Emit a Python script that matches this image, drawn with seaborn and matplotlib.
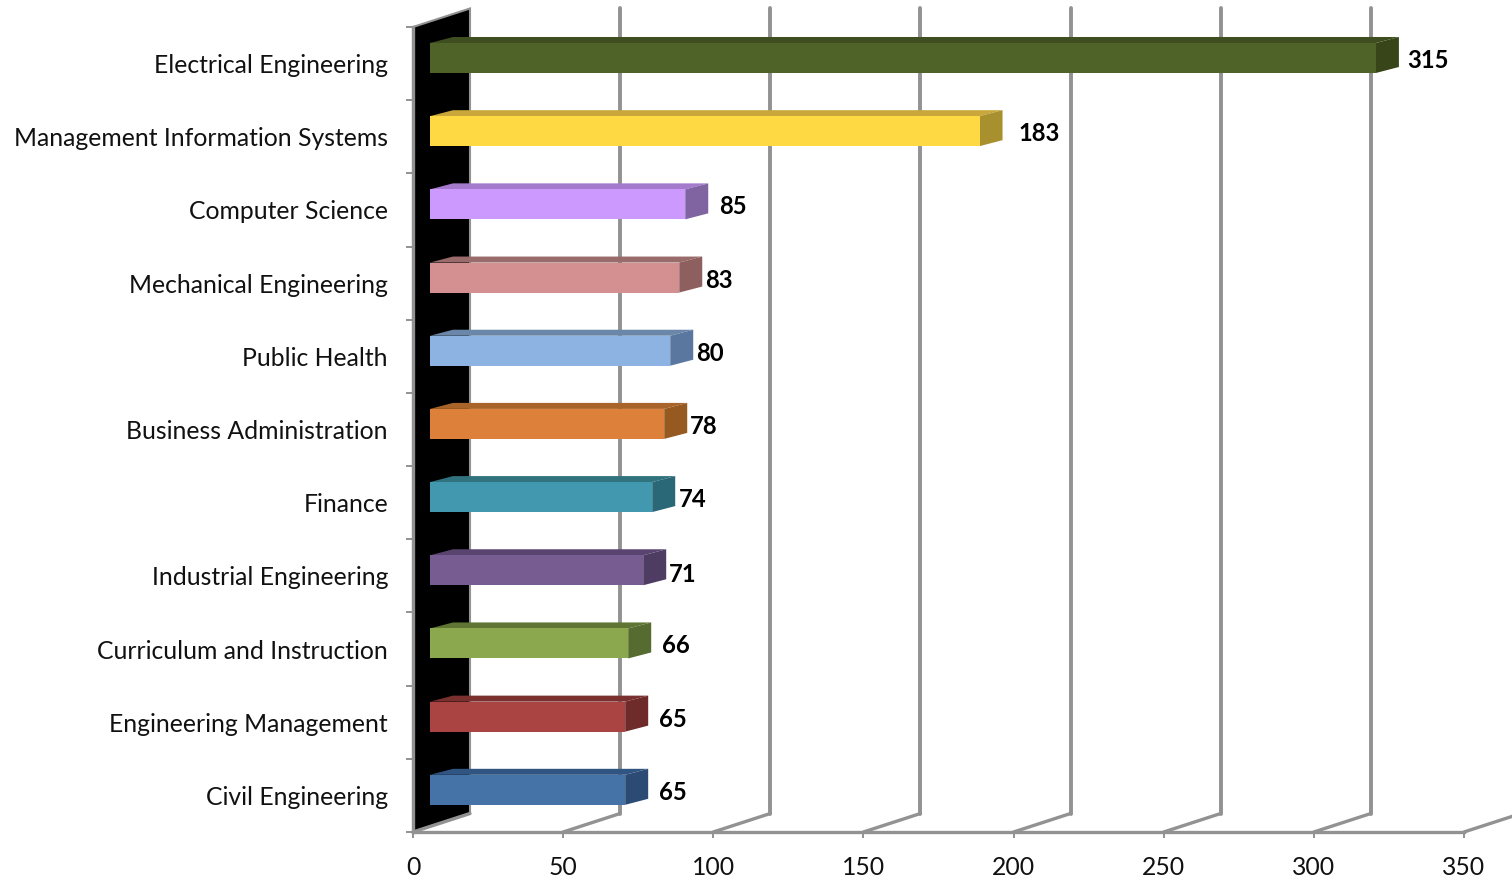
import matplotlib
matplotlib.use('Agg')
import matplotlib.pyplot as plt
import numpy as np
import pandas as pd
import seaborn as sns
from matplotlib.patches import Polygon

majors = ['Electrical Engineering', 'Management Information Systems', 'Computer Science',
          'Mechanical Engineering', 'Public Health', 'Business Administration', 'Finance',
          'Industrial Engineering', 'Curriculum and Instruction', 'Engineering Management',
          'Civil Engineering']
counts = [315, 183, 85, 83, 80, 78, 74, 71, 66, 65, 65]
x_ticks = [0, 50, 100, 150, 200, 250, 300, 350]

front_colors = ['#4F6228', '#FFD944', '#CC99FF', '#D49090', '#8DB3E2', '#DD803A',
                '#4198AF', '#775C91', '#8CA84F', '#A94442', '#4572A7']
top_colors = ['#3F4E20', '#C9A73A', '#A37ACC', '#9A6B6B', '#6A87AA', '#A96529',
              '#31727F', '#59436F', '#5F7533', '#7A302E', '#315582']
side_colors = ['#374518', '#A8902E', '#8064A2', '#8E5F5F', '#5A789F', '#96591F',
               '#2A6878', '#4F3C63', '#556B2F', '#6E2B29', '#2B4B75']

# hand placed labels in the original, px from the bar end / from the row centre
label_gap = [31, 39, 34, 26, 26, 26, 27, 26, 34, 34, 34]
label_rise = [3, 3, 3, 3, 3, 3, 3, 1, 4, 3, 3]

GRID = '#929292'
AX_L, AX_R, AX_T, AX_B = 413, 1464, 27, 832
W, H = 1512, 881

sns.set_style('white')
plt.rcParams['font.family'] = ['Lato', 'DejaVu Sans']

fig = plt.figure(figsize=(W / 100, H / 100), dpi=100)
ax = fig.add_axes([AX_L / W, 1 - AX_B / H, (AX_R - AX_L) / W, (AX_B - AX_T) / H])

df = pd.DataFrame({'major': majors, 'count': counts})
sns.barplot(data=df, x='count', y='major', hue='major', palette=front_colors, legend=False,
            width=30 / 73.2, saturation=1, ax=ax, zorder=4)
bars = list(ax.patches)

ax.set_xlim(0, 350)
ax.set_ylim(len(majors) - 0.5, -0.5)
px_x = 350 / (AX_R - AX_L)
px_y = len(majors) / (AX_B - AX_T)

# 3d look: everything is pushed by a fixed pixel depth
wall_dx, wall_dy = 57 * px_x, 18.5 * px_y
bar_dx, bar_dy = 23 * px_x, 6 * px_y
start, lift = 17 * px_x, 5.6 * px_y

y_top, y_bot = -0.5, len(majors) - 0.5
ax.add_patch(Polygon([(0, y_top), (wall_dx, y_top - wall_dy), (wall_dx, y_bot - wall_dy), (0, y_bot)],
                     closed=True, fc='black', ec=GRID, lw=1.5, clip_on=False, zorder=1))
for t in x_ticks:
    ax.plot([t, t + wall_dx], [y_bot, y_bot - wall_dy], color=GRID, lw=2.4, clip_on=False, zorder=2,
            solid_capstyle='round')
    if t > 0 and t < 350:
        ax.plot([t + wall_dx] * 2, [y_bot - wall_dy, y_top - wall_dy], color=GRID, lw=2.8,
                clip_on=False, zorder=2)

for i, bar in enumerate(bars):
    top = bar.get_y() - lift
    bottom = top + bar.get_height()
    left = start
    right = start + bar.get_width()
    bar.set_x(left)
    bar.set_y(top)
    bar.set_clip_on(False)
    bar.set_edgecolor('none')
    ax.add_patch(Polygon([(left, top), (left + bar_dx, top - bar_dy), (right + bar_dx, top - bar_dy), (right, top)],
                         closed=True, fc=top_colors[i], ec='none', clip_on=False, zorder=3))
    ax.add_patch(Polygon([(right, top), (right + bar_dx, top - bar_dy), (right + bar_dx, bottom - bar_dy), (right, bottom)],
                         closed=True, fc=side_colors[i], ec='none', clip_on=False, zorder=3))
    ax.annotate(str(counts[i]), (right, i), xytext=(label_gap[i] * 0.72, label_rise[i] * 0.72),
                textcoords='offset points', ha='left', va='center', fontsize=17.2,
                fontweight='bold', color='black', annotation_clip=False, zorder=5)

ax.set_xlabel('')
ax.set_ylabel('')
ax.set_xticks(x_ticks)
ax.set_yticks(np.arange(len(majors) + 1) - 0.5)
ax.set_yticklabels([])
ax.set_yticks(np.arange(len(majors)), labels=majors, minor=True)
ax.tick_params(axis='y', which='major', length=5, width=1.4, color=GRID, left=True)
ax.tick_params(axis='y', which='minor', length=0, pad=18, labelsize=17.8, labelcolor='#111111', left=False)
ax.tick_params(axis='x', which='major', length=4.5, width=1.4, color=GRID, bottom=True, pad=13,
               labelsize=17.8, labelcolor='#111111')

for side in ['top', 'right']:
    ax.spines[side].set_visible(False)
for side in ['left', 'bottom']:
    ax.spines[side].set_color(GRID)
    ax.spines[side].set_linewidth(2.4)
    ax.spines[side].set_zorder(2.5)
ax.patch.set_alpha(0)

fig.savefig('out.png', dpi=100)
plt.close(fig)
